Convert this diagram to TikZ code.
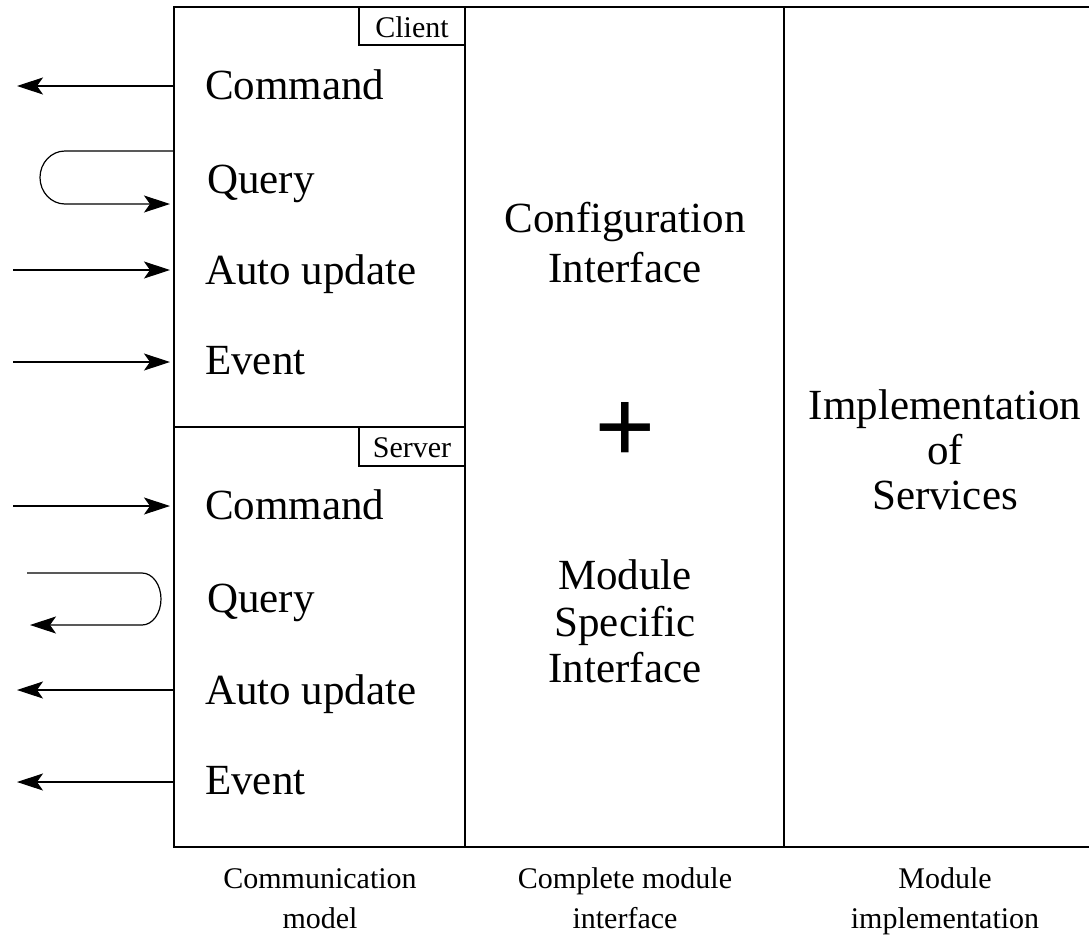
\documentclass[tikz,border=0pt]{standalone}
\usepackage{fontspec}
\setmainfont{Liberation Serif}
\usetikzlibrary{arrows.meta}

\tikzset{
  frame/.style={line width=1.4pt},
  rowtext/.style={anchor=base west, inner sep=0pt, font=\fontsize{43}{48}\selectfont},
  bigtext/.style={anchor=base, inner sep=0pt, font=\fontsize{43}{48}\selectfont},
  smalltext/.style={anchor=base, inner sep=0pt, font=\fontsize{30}{34}\selectfont},
  tagtext/.style={anchor=base, inner sep=0pt, font=\fontsize{30}{34}\selectfont},
  msg/.style={line width=1.2pt, -{Stealth[length=26pt,width=17pt,inset=6pt,line width=1pt]}},
}

\begin{document}
\begin{tikzpicture}[x=1pt,y=-1pt]
\useasboundingbox (0,0) rectangle (1089,935);

% column frame
\draw[frame] (1089,7) -- (174,7) -- (174,847) -- (1089,847);
\draw[frame] (465,7) -- (465,847);
\draw[frame] (784,7) -- (784,847);
\draw[frame] (174,427) -- (465,427);

% client / server tags
\draw[frame] (359,7) rectangle (465,45);
\node[tagtext] (client) at (412,37) {Client};
\draw[frame] (359,427) rectangle (465,466);
\node[tagtext] (server) at (412,457) {Server};

% client messages
\node[rowtext] (ccmd) at (205,99) {Command};
\node[rowtext] (cqry) at (207,193) {Query};
\node[rowtext] (cauto) at (205,284) {Auto update};
\node[rowtext] (cevt) at (205,374) {Event};

% server messages
\node[rowtext] (scmd) at (205,519) {Command};
\node[rowtext] (sqry) at (207,612) {Query};
\node[rowtext] (sauto) at (205,704) {Auto update};
\node[rowtext] (sevt) at (205,794) {Event};

% attachment points on the left edge and free ends
\coordinate (ccmdE) at (174,86);   \coordinate (ccmdF) at (17,86);
\coordinate (cqryA) at (174,151);  \coordinate (cqryB) at (65,151);
\coordinate (cqryE) at (170,204);
\coordinate (cautoF) at (13,270);  \coordinate (cautoE) at (170,270);
\coordinate (cevtF) at (13,362);   \coordinate (cevtE) at (170,362);
\coordinate (scmdF) at (13,506);   \coordinate (scmdE) at (170,506);
\coordinate (sqryA) at (27,573);   \coordinate (sqryB) at (142,573);
\coordinate (sqryE) at (30,625);
\coordinate (sautoE) at (174,690); \coordinate (sautoF) at (17,690);
\coordinate (sevtE) at (174,782);  \coordinate (sevtF) at (17,782);

\draw[msg] (ccmdE) -- (ccmdF);
\draw[msg] (cqryA) -- (cqryB) arc[start angle=270, end angle=90, x radius=25, y radius=26.5] -- (cqryE);
\draw[msg] (cautoF) -- (cautoE);
\draw[msg] (cevtF) -- (cevtE);
\draw[msg] (scmdF) -- (scmdE);
\draw[msg] (sqryA) -- (sqryB) arc[start angle=270, end angle=450, x radius=19, y radius=26] -- (sqryE);
\draw[msg] (sautoE) -- (sautoF);
\draw[msg] (sevtE) -- (sevtF);

% complete module interface
\node[bigtext] (conf1) at (625,232) {Configuration};
\node[bigtext] (conf2) at (625,282) {Interface};
\node[anchor=base, inner sep=0pt, font=\fontsize{108}{120}\selectfont\bfseries] (plus) at (625,463) {+};
\node[bigtext] (mod1) at (625,589) {Module};
\node[bigtext] (mod2) at (625,636) {Specific};
\node[bigtext] (mod3) at (625,682) {Interface};

% implementation
\node[bigtext] (impl1) at (945,419) {Implementation};
\node[bigtext] (impl2) at (945,464) {of};
\node[bigtext] (impl3) at (945,509) {Services};

% column captions
\node[smalltext] (cap1a) at (320,888) {Communication};
\node[smalltext] (cap1b) at (320,928) {model};
\node[smalltext] (cap2a) at (625,888) {Complete module};
\node[smalltext] (cap2b) at (625,928) {interface};
\node[smalltext] (cap3a) at (945,888) {Module};
\node[smalltext] (cap3b) at (945,928) {implementation};
\end{tikzpicture}
\end{document}
